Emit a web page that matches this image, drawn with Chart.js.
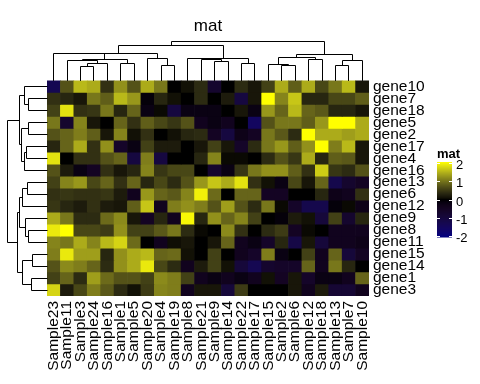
<!DOCTYPE html>
<html>
<head>
<meta charset="utf-8">
<script src="https://cdn.jsdelivr.net/npm/chart.js@4.4.1/dist/chart.umd.min.js"></script>
<style>
  body { margin: 0; background: #fff; }
  canvas { display: block; }
</style>
</head>
<body>
<canvas id="heat" width="480" height="384"></canvas>
<script>
/* ====================== data ====================== */
const samples = ['Sample23', 'Sample11', 'Sample3', 'Sample24', 'Sample16', 'Sample1', 'Sample5', 'Sample20',
    'Sample4', 'Sample19', 'Sample8', 'Sample21', 'Sample9', 'Sample14', 'Sample22', 'Sample17',
    'Sample15', 'Sample2', 'Sample6', 'Sample12', 'Sample18', 'Sample13', 'Sample7', 'Sample10'];

const genes = ['gene10', 'gene7', 'gene18', 'gene5', 'gene2', 'gene17', 'gene4', 'gene16', 'gene13',
    'gene6', 'gene12', 'gene9', 'gene8', 'gene11', 'gene15', 'gene14', 'gene1', 'gene3'];

// one row per gene, in sample order
const values = [
    [-1.3, 0.7, 1.5, 1.4, 0.4, 1.2, 0.7, 1.4, 1.0, 0, 0.1, 0.35, -0.7, 0, 0.35, 0.15, 0.55, 1.4, 0.8, 1.4, 0.6, 1.0, 1.5, 0.15],
    [0.4, 0.3, 0.15, 1.0, 0.8, 1.5, 1.25, -0.1, 0.3, 0.1, 0, 0.35, 0, 0.2, -1.0, 0.15, 2.0, 1.1, 1.6, 0.3, 0.3, 0.6, 0.6, 0.8],
    [0.55, 1.8, 0.4, 0.45, 1.0, 0.3, 0.85, -0.2, 0.05, -1.0, -0.2, -0.2, -0.2, 0, 0.15, -0.2, 1.25, 0.85, 1.5, 0.85, 0.75, 0.3, 0.3, 0.15],
    [1.0, -0.7, 1.1, 0.15, 0, 0.85, 0.4, 0.8, 0.6, 0.45, 0.7, -0.4, -0.2, -0.4, 0, -1.5, 0.7, 1.0, 1.0, 0.8, 1.25, 2.0, 2.0, 1.4],
    [0.7, 0.85, 1.05, 0.8, 0.15, 1.1, 0.1, 0.4, 0, 0.1, 0.3, 0.35, -0.5, -1.0, -0.3, -0.5, 1.0, 0.75, 0.35, 2.0, 1.4, 1.4, 1.3, 1.4],
    [0.3, 0.85, 1.4, 0.4, 1.2, -0.6, -0.2, 0.55, 0.2, 0.2, 0, 0.15, 0.55, 0.15, -0.6, 0.35, 1.0, 1.25, 0.8, 1.2, 2.0, 1.05, 1.5, 0.15],
    [1.8, 0, 0.4, 0.4, 0.7, 0.85, -1.0, 1.05, -1.0, 0, 0, 0.3, 1.1, 0.05, 0.05, 0, 0.35, 0.7, 0.45, 1.4, 0.3, 0.8, 0.75, 0.15],
    [0.7, 0.2, -0.2, -0.5, 0.4, 0.15, 0.3, 1.1, 0.45, 0.6, 0.6, 0, -0.7, -0.2, 0.45, 1.0, 1.2, 1.2, 0.8, 0.4, 1.65, 0.45, 0.35, 0.7],
    [0.55, 1.1, 1.25, 0.6, 0.85, 0.4, 0.85, 0.3, 0.6, 0.35, 0.7, 1.25, 1.6, 1.4, 1.8, 0.4, 0.1, -0.2, 0.6, 0.15, 0.85, -1.2, -0.7, -0.5],
    [0.4, 0.45, 0.4, 0.4, 0.45, 0.2, -0.4, 1.25, 0.85, 0.75, 1.1, 1.9, 0.9, 0, 0.85, 0.85, -0.5, -0.5, 0, 0, 0.3, -0.3, -0.4, 0.4],
    [0.45, 0.3, 0.2, 0.4, 0.2, 0.15, 0.8, 1.6, -0.4, 1.05, 1.2, 1.05, 0.7, 1.3, 0.7, 0.35, 1.0, 0.05, -0.6, -1.2, -1.2, -0.1, 0.05, -0.3],
    [1.4, 1.0, 0.35, 0.35, 0.9, 1.15, 0.15, -0.5, 0.3, -0.4, 1.95, 0.3, 1.2, 0.85, 1.1, 0.55, 0, -0.1, 0.2, 0.1, -0.9, 0.55, -0.7, 0.3],
    [1.85, 2.0, 0.6, 0.6, 0.5, 1.2, 0.55, 0.55, 0.75, 1.0, 0.35, 0.05, 0, 1.15, 0.4, 0, 0.35, 0.5, -0.5, 0.05, 0, -0.4, -0.4, -0.4],
    [1.1, 1.0, 1.4, 1.1, 1.5, 1.7, 0.9, 0, -0.4, 0.08, 0.15, 0, 0.15, 0.85, -0.4, -0.2, -0.6, 0.3, -1.1, 0.15, -0.9, -0.4, -0.4, -0.3],
    [1.05, 1.85, 1.3, 1.3, 0.3, 1.2, 1.4, 1.5, 0.85, 0.9, 0.1, 0, 0.55, 0, -0.4, -0.6, 1.05, -0.2, 0, 0.55, -0.4, 0.85, -0.9, -0.5],
    [0.7, 1.15, 1.05, 0.85, 0.35, 1.2, 1.4, 1.85, 0.6, 0.35, -0.4, 0.2, 0.55, 0.1, -0.9, -1.3, -0.7, -0.6, -0.6, 0.85, -0.4, 1.0, 0.3, 0],
    [0.55, 0.85, 0.35, 1.3, 0.9, 0.7, 0.7, 0.55, 1.15, 1.05, 0.55, -0.4, -0.2, -0.4, -0.2, -0.4, 0.1, -0.5, 0.15, -0.6, -0.2, -0.2, -0.4, 0.85],
    [1.7, 0.2, 0.6, 1.05, 0.75, 0.35, 0.1, 0.5, 1.1, 1.05, -0.4, 0.15, 0.15, -0.9, 0.5, 0, 0, 0, 0.15, -0.4, 0.2, -0.8, -0.8, -0.4]
];

// dendrograms: [height, left, right], leaves are column / row indices
const colTree = [38.7,
    [34.3,
        [27, [26.3, 0, [20.3, [19.3, 1, [17, [13.7, 2, 3], 4]], [17, 5, 6]]], [22, 7, [14.7, 8, 9]]],
        [22, [21.3, 10, [20.3, 11, [18.7, 12, 13]]], [17, 14, 15]]],
    [25.3,
        [22.7, [16, 16, [14.7, 17, 18]], [20.3, 19, 20]],
        [19.3, [14.7, 21, 22], 23]]];

const rowTree = [39.7,
    [27.7, [22.7, 0, [18.7, 1, 2]], [25.3, [18.7, 3, 4], [23, [21, 5, 6], 7]]],
    [29.7,
        [27.7, [24.3, [20, 8, 9], 10], [22, 11, [18.7, 12, 13]]],
        [24.3, [14.3, 14, 15], [16, 16, 17]]]];

const legendTicks = [2, 1, 0, -1, -2];

/* ====================== colours (Lab interpolation) ====================== */
const FONT = "'Liberation Sans', Arial, sans-serif";

function toLinear(c) {
    c /= 255;
    return c <= 0.04045 ? c / 12.92 : Math.pow((c + 0.055) / 1.055, 2.4);
}
function rgbToLab(rgb) {
    const R = toLinear(rgb[0]), G = toLinear(rgb[1]), B = toLinear(rgb[2]);
    const x = (0.4124 * R + 0.3576 * G + 0.1805 * B) / 0.95047;
    const y = 0.2126 * R + 0.7152 * G + 0.0722 * B;
    const z = (0.0193 * R + 0.1192 * G + 0.9505 * B) / 1.08883;
    const f = t => t > 0.008856 ? Math.cbrt(t) : 7.787 * t + 16 / 116;
    return [116 * f(y) - 16, 500 * (f(x) - f(y)), 200 * (f(y) - f(z))];
}
function labToRgb(lab) {
    const fy = (lab[0] + 16) / 116, fx = fy + lab[1] / 500, fz = fy - lab[2] / 200;
    const inv = t => t > 0.206893 ? t * t * t : (t - 16 / 116) / 7.787;
    const x = inv(fx) * 0.95047, y = inv(fy), z = inv(fz) * 1.08883;
    const R = 3.2406 * x - 1.5372 * y - 0.4986 * z;
    const G = -0.9689 * x + 1.8758 * y + 0.0415 * z;
    const B = 0.0557 * x - 0.2040 * y + 1.0570 * z;
    const g = c => {
        c = Math.max(0, Math.min(1, c));
        return Math.round(255 * (c <= 0.0031308 ? 12.92 * c : 1.055 * Math.pow(c, 1 / 2.4) - 0.055));
    };
    return 'rgb(' + g(R) + ',' + g(G) + ',' + g(B) + ')';
}
const labLow = rgbToLab([0, 0, 128]), labMid = rgbToLab([0, 0, 0]), labHigh = rgbToLab([255, 255, 0]);

function colour(v) {
    v = Math.max(-2, Math.min(2, v));
    const end = v < 0 ? labLow : labHigh;
    const t = Math.abs(v) / 2;
    return labToRgb(labMid.map((m, i) => m + (end[i] - m) * t));
}

/* ====================== dendrograms + legend ====================== */
const crisp = p => Math.round(p - 0.5) + 0.5;

const extras = {
    id: 'extras',
    afterDraw(chart) {
        const ctx = chart.ctx;
        const area = chart.chartArea;
        const xs = chart.scales.x, ys = chart.scales.y;
        ctx.save();
        ctx.strokeStyle = '#000';
        ctx.lineWidth = 1;
        ctx.lineCap = 'square';

        // column dendrogram (above the heatmap)
        const colMax = colTree[0], colBand = 39;
        const colY = h => crisp(area.top - h / colMax * colBand);
        const walkCol = node => {
            if (typeof node === 'number') return { pos: xs.getPixelForValue(node), h: 0 };
            const a = walkCol(node[1]), b = walkCol(node[2]);
            const y = colY(node[0]);
            ctx.beginPath();
            ctx.moveTo(crisp(a.pos), a.h ? colY(a.h) : area.top);
            ctx.lineTo(crisp(a.pos), y);
            ctx.lineTo(crisp(b.pos), y);
            ctx.lineTo(crisp(b.pos), b.h ? colY(b.h) : area.top);
            ctx.stroke();
            return { pos: (a.pos + b.pos) / 2, h: node[0] };
        };
        walkCol(colTree);

        // row dendrogram (left of the heatmap)
        const rowMax = rowTree[0], rowBand = 39.7;
        const rowX = h => crisp(area.left - h / rowMax * rowBand);
        const walkRow = node => {
            if (typeof node === 'number') return { pos: ys.getPixelForValue(node + 0.5), h: 0 };
            const a = walkRow(node[1]), b = walkRow(node[2]);
            const x = rowX(node[0]);
            ctx.beginPath();
            ctx.moveTo(a.h ? rowX(a.h) : area.left, crisp(a.pos));
            ctx.lineTo(x, crisp(a.pos));
            ctx.lineTo(x, crisp(b.pos));
            ctx.lineTo(b.h ? rowX(b.h) : area.left, crisp(b.pos));
            ctx.stroke();
            return { pos: (a.pos + b.pos) / 2, h: node[0] };
        };
        walkRow(rowTree);

        // colour legend
        const lx = 437, lw = 15, ltop = 162, lh = 75;
        const steps = 75;
        for (let i = 0; i < steps; i++) {
            const v = 2 - (i + 0.5) / steps * 4;
            ctx.fillStyle = colour(v);
            ctx.fillRect(lx, ltop + i * lh / steps, lw, lh / steps + 0.5);
        }
        ctx.strokeStyle = '#fff';
        ctx.lineCap = 'butt';
        ctx.fillStyle = '#000';
        ctx.font = '13px ' + FONT;
        ctx.textAlign = 'left';
        ctx.textBaseline = 'middle';
        legendTicks.forEach(v => {
            const y = Math.round(ltop + 1 + (2 - v) / 4 * (lh - 2)) + 0.5;
            ctx.beginPath();
            ctx.moveTo(lx, y); ctx.lineTo(lx + 3, y);
            ctx.moveTo(lx + lw - 3, y); ctx.lineTo(lx + lw, y);
            ctx.stroke();
            ctx.fillText(String(v), lx + lw + 4, y + 2);
        });
        ctx.font = 'bold 13px ' + FONT;
        ctx.textBaseline = 'alphabetic';
        ctx.fillText('mat', lx, 158);
        ctx.restore();
    }
};

/* ====================== chart ====================== */
document.addEventListener('DOMContentLoaded', () => {
    const ctx = document.getElementById('heat').getContext('2d');

    const datasets = genes.map((g, i) => ({
        label: g,
        data: samples.map(() => 1),
        backgroundColor: values[i].map(colour),
        borderWidth: 0,
        barPercentage: 1,
        categoryPercentage: 1,
        stack: 'cells'
    }));

    new Chart(ctx, {
        type: 'bar',
        data: { labels: samples, datasets: datasets },
        options: {
            responsive: false,
            animation: false,
            layout: { padding: { left: 47, right: 0, top: 0, bottom: 0 } },
            plugins: {
                legend: { display: false },
                tooltip: { enabled: false },
                title: {
                    display: true,
                    text: 'mat',
                    fullSize: false,
                    color: '#000',
                    font: { family: FONT, size: 17, weight: 'normal' },
                    padding: { top: 16, bottom: 44 }
                }
            },
            scales: {
                x: {
                    stacked: true,
                    grid: { display: false, drawTicks: false },
                    border: { display: false },
                    ticks: {
                        autoSkip: false,
                        maxRotation: 90,
                        minRotation: 90,
                        padding: 5,
                        color: '#000',
                        font: { family: FONT, size: 15.5 }
                    },
                    afterFit: axis => { axis.height = 88; }
                },
                y: {
                    type: 'linear',
                    position: 'right',
                    stacked: true,
                    reverse: true,
                    min: 0,
                    max: genes.length,
                    grid: { display: false, drawTicks: false },
                    border: { display: false },
                    afterBuildTicks: axis => {
                        axis.ticks = genes.map((g, i) => ({ value: i + 0.5 }));
                    },
                    ticks: {
                        autoSkip: false,
                        padding: 4,
                        color: '#000',
                        font: { family: FONT, size: 15.5 },
                        callback: value => genes[Math.floor(value)]
                    },
                    afterFit: axis => { axis.width = 111; }
                }
            }
        },
        plugins: [extras]
    });
});
</script>
</body>
</html>
